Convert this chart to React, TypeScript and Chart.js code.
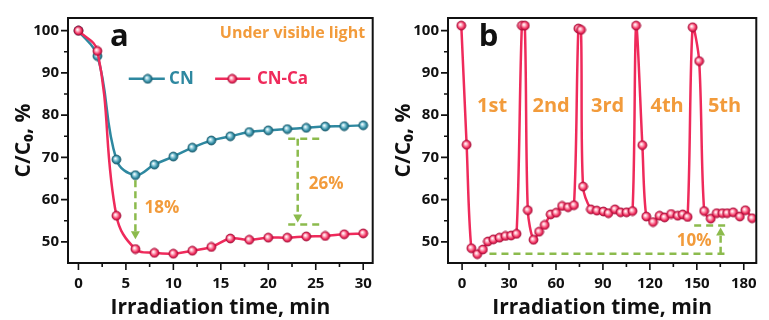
import React, { useEffect, useRef } from 'react';
import { Chart, registerables } from 'chart.js';
Chart.register(...registerables);

const FONT = "'Open Sans', 'DejaVu Sans', sans-serif";
const ORANGE = '#F29B3B';
const GREEN = '#8CBB4D';
const TEAL = '#2E88A0';
const RED = '#EF2A5B';
const INK = '#111111';

// Panel a data
const timeA = [0, 2, 4, 6, 8, 10, 12, 14, 16, 18, 20, 22, 24, 26, 28, 30];
const cnValues = [100, 94.0, 69.5, 65.8, 68.3, 70.2, 72.3, 74.0, 75.0, 76.0, 76.4, 76.7, 77.0, 77.3, 77.4, 77.6];
const cnCaValues = [100, 95.2, 56.2, 48.3, 47.4, 47.2, 47.9, 48.8, 50.8, 50.5, 51.0, 51.0, 51.3, 51.4, 51.8, 52.0];

// Panel b data (5 cycles)
const cycleTimes = [
  -0.5, 2.9, 5.9, 9.7, 13.3, 16.5, 20.0, 23.9, 27.7, 31.3, 34.8,
  38.2, 40.1, 42.0, 45.6, 49.2, 52.8, 56.6, 60.1, 63.9, 67.7, 71.5,
  74.3, 76.0, 77.3, 82.3, 86.1, 90.3, 93.5, 97.7, 101.3, 105.1, 108.9,
  111.2, 115.2, 117.7, 122.0, 126.2, 129.4, 133.6, 137.8, 141.0, 144.1,
  147.3, 151.5, 154.7, 158.9, 162.7, 166.3, 169.4, 173.2, 177.5, 181.0, 185.3,
];
const cycleValues = [
  101.2, 73.0, 48.5, 47.1, 48.2, 50.1, 50.6, 51.0, 51.4, 51.5, 51.9,
  101.2, 101.2, 57.5, 50.5, 52.4, 54.0, 56.5, 56.9, 58.5, 58.2, 58.7,
  100.5, 100.2, 63.1, 57.7, 57.4, 57.2, 56.8, 57.7, 57.0, 57.0, 57.3,
  101.2, 72.9, 56.0, 54.7, 56.2, 55.8, 56.6, 56.2, 56.5, 55.9,
  100.8, 92.8, 57.3, 55.5, 56.8, 56.8, 56.8, 57.0, 56.0, 57.5, 55.6,
];

const xTicksA = [0, 5, 10, 15, 20, 25, 30];
const xMinorA = [2.5, 7.5, 12.5, 17.5, 22.5, 27.5];
const xTicksB = [0, 30, 60, 90, 120, 150, 180];
const xMinorB = [15, 45, 75, 105, 135, 165];
const yTicks = [50, 60, 70, 80, 90, 100];
const yMinor = [55, 65, 75, 85, 95];
const cycleLabels = ['1st', '2nd', '3rd', '4th', '5th'];
const cycleLabelX = [19.2, 56.9, 93, 131, 167.7];
const seriesNames = ['CN', 'CN-Ca'];

type Fn = (v: number) => number;
type Extra = (ctx: CanvasRenderingContext2D, X: Fn, Y: Fn) => void;

function makeBall(base: string, light: string, dark: string, r = 4.5) {
  const size = Math.ceil(r * 2 + 2);
  const c = document.createElement('canvas');
  c.width = size;
  c.height = size;
  const ctx = c.getContext('2d')!;
  const cx = size / 2;
  const cy = size / 2;
  const g = ctx.createRadialGradient(cx - 1.2, cy - 1.2, 0.3, cx, cy, r);
  g.addColorStop(0, '#ffffff');
  g.addColorStop(0.3, light);
  g.addColorStop(0.75, base);
  g.addColorStop(1, dark);
  ctx.fillStyle = g;
  ctx.beginPath();
  ctx.arc(cx, cy, r, 0, Math.PI * 2);
  ctx.fill();
  ctx.strokeStyle = dark;
  ctx.lineWidth = 0.8;
  ctx.stroke();
  return c;
}

function text(ctx: CanvasRenderingContext2D, s: string, x: number, y: number, size: number, color: string, align: CanvasTextAlign = 'center') {
  ctx.font = `bold ${size}px ${FONT}`;
  ctx.fillStyle = color;
  ctx.textAlign = align;
  ctx.textBaseline = 'middle';
  ctx.fillText(s, x, y);
}

function dashedArrow(ctx: CanvasRenderingContext2D, x: number, y0: number, y1: number) {
  const dir = Math.sign(y1 - y0);
  const head = 8;
  ctx.strokeStyle = GREEN;
  ctx.lineWidth = 2.5;
  ctx.setLineDash([7, 4]);
  ctx.beginPath();
  ctx.moveTo(x, y0);
  ctx.lineTo(x, y1 - dir * head);
  ctx.stroke();
  ctx.setLineDash([]);
  ctx.fillStyle = GREEN;
  ctx.beginPath();
  ctx.moveTo(x, y1);
  ctx.lineTo(x - 4.5, y1 - dir * head);
  ctx.lineTo(x + 4.5, y1 - dir * head);
  ctx.closePath();
  ctx.fill();
}

function dashedH(ctx: CanvasRenderingContext2D, x0: number, x1: number, y: number) {
  ctx.strokeStyle = GREEN;
  ctx.lineWidth = 2.5;
  ctx.setLineDash([7, 5]);
  ctx.beginPath();
  ctx.moveTo(x0, y);
  ctx.lineTo(x1, y);
  ctx.stroke();
  ctx.setLineDash([]);
}

function framePlugin(xMajor: number[], xMinor: number[], extra: Extra) {
  return {
    id: 'frameAndNotes',
    afterDatasetsDraw(chart: any) {
      const { ctx, chartArea: a, scales } = chart;
      const X = (v: number) => scales.x.getPixelForValue(v);
      const Y = (v: number) => scales.y.getPixelForValue(v);
      ctx.save();
      extra(ctx, X, Y);
      ctx.setLineDash([]);
      ctx.strokeStyle = INK;
      ctx.lineWidth = 2;
      ctx.strokeRect(a.left, a.top, a.right - a.left, a.bottom - a.top);
      ctx.lineWidth = 1.6;
      ctx.beginPath();
      xMajor.forEach((v) => { const p = X(v); ctx.moveTo(p, a.bottom); ctx.lineTo(p, a.bottom + 7); });
      xMinor.forEach((v) => { const p = X(v); ctx.moveTo(p, a.bottom); ctx.lineTo(p, a.bottom + 4); });
      yTicks.forEach((v) => { const p = Y(v); ctx.moveTo(a.left, p); ctx.lineTo(a.left - 7, p); });
      yMinor.forEach((v) => { const p = Y(v); ctx.moveTo(a.left, p); ctx.lineTo(a.left - 4, p); });
      ctx.stroke();
      ctx.restore();
    },
  };
}

function scalesFor(xMin: number, xMax: number, xMajor: number[], yWidth: number, yTitlePad: number) {
  const tickFont = { family: FONT, size: 15, weight: 'bold' as const };
  const titleFont = { family: FONT, size: 21, weight: 'bold' as const, lineHeight: 1 };
  return {
    x: {
      type: 'linear' as const,
      min: xMin,
      max: xMax,
      grid: { display: false, drawTicks: false },
      border: { display: false },
      afterBuildTicks: (s: any) => { s.ticks = xMajor.map((v) => ({ value: v })); },
      afterFit: (s: any) => { s.height = 57; },
      ticks: { padding: 12, color: INK, font: tickFont, maxRotation: 0, autoSkip: false, callback: (v: any) => String(v) },
      title: { display: true, text: 'Irradiation time, min', color: INK, font: titleFont, padding: { top: 0, bottom: 1 } },
    },
    y: {
      type: 'linear' as const,
      min: 45,
      max: 103,
      grid: { display: false, drawTicks: false },
      border: { display: false },
      afterBuildTicks: (s: any) => { s.ticks = yTicks.map((v) => ({ value: v })); },
      afterFit: (s: any) => { s.width = yWidth; },
      ticks: { padding: 9, color: INK, font: tickFont, autoSkip: false, callback: (v: any) => String(v) },
      title: { display: true, text: 'C/C₀, %', color: INK, font: titleFont, padding: { top: yTitlePad, bottom: 0 } },
    },
  };
}

export default function App() {
  const refA = useRef<HTMLCanvasElement>(null);
  const refB = useRef<HTMLCanvasElement>(null);

  useEffect(() => {
    const ballCN = makeBall(TEAL, '#9FD6E3', '#1D5E70');
    const ballCa = makeBall(RED, '#FFB3C4', '#A80F3A');

    const extraA: Extra = (ctx, X, Y) => {
      text(ctx, 'a', X(4.3), Y(98.4), 31, INK);
      text(ctx, 'Under visible light', X(30.2), Y(99.3), 16, ORANGE, 'right');
      // legend
      const ly = Y(88.6);
      ctx.lineWidth = 2.5;
      ctx.strokeStyle = TEAL;
      ctx.beginPath(); ctx.moveTo(X(5.3), ly); ctx.lineTo(X(9.1), ly); ctx.stroke();
      ctx.drawImage(ballCN, X(7.3) - ballCN.width / 2, ly - ballCN.height / 2);
      text(ctx, seriesNames[0], X(9.55), ly, 17, TEAL, 'left');
      ctx.strokeStyle = RED;
      ctx.beginPath(); ctx.moveTo(X(14.4), ly); ctx.lineTo(X(18.1), ly); ctx.stroke();
      ctx.drawImage(ballCa, X(16.2) - ballCa.width / 2, ly - ballCa.height / 2);
      text(ctx, seriesNames[1], X(18.8), ly, 17, RED, 'left');
      // 18% arrow
      dashedArrow(ctx, X(6), Y(65.8) + 5, Y(50.6));
      text(ctx, '18%', X(8.8), Y(58), 17, ORANGE);
      // 26% bracket
      dashedH(ctx, X(22.1), X(25.6), Y(74.4));
      dashedH(ctx, X(22.1), X(25.6), Y(54.1));
      dashedArrow(ctx, X(23.1), Y(74.4), Y(54.6));
      text(ctx, '26%', X(26.1), Y(63.6), 17, ORANGE);
    };

    const extraB: Extra = (ctx, X, Y) => {
      text(ctx, 'b', X(16.9), Y(98.4), 31, INK);
      cycleLabels.forEach((s, i) => text(ctx, s, X(cycleLabelX[i]), Y(82), 20, ORANGE));
      dashedH(ctx, X(17.5), X(170.5), Y(47.2));
      dashedH(ctx, X(148.3), X(170.5), Y(53.9));
      dashedArrow(ctx, X(165.2), Y(47.2), Y(53.4));
      text(ctx, '10%', X(148.3), Y(50.2), 17, ORANGE);
    };

    const a = new Chart(refA.current!, {
      type: 'line',
      data: {
        datasets: [
          {
            label: seriesNames[0],
            data: timeA.map((t, i) => ({ x: t, y: cnValues[i] })),
            borderColor: TEAL,
            borderWidth: 2.5,
            pointStyle: ballCN as any,
            pointRadius: 4.5,
            tension: 0.4,
            order: 1,
          },
          {
            label: seriesNames[1],
            data: timeA.map((t, i) => ({ x: t, y: cnCaValues[i] })),
            borderColor: RED,
            borderWidth: 2.5,
            pointStyle: ballCa as any,
            pointRadius: 4.5,
            tension: 0.4,
            order: 0,
          },
        ],
      },
      options: {
        responsive: false,
        devicePixelRatio: 1,
        animation: false,
        layout: { padding: { top: 13, right: 6, left: 0, bottom: 0 } },
        plugins: { legend: { display: false }, tooltip: { enabled: false } },
        scales: scalesFor(-1.1, 31, xTicksA, 68, 13.5) as any,
      },
      plugins: [framePlugin(xTicksA, xMinorA, extraA)],
    });

    const b = new Chart(refB.current!, {
      type: 'line',
      data: {
        datasets: [
          {
            label: seriesNames[1],
            data: cycleTimes.map((t, i) => ({ x: t, y: cycleValues[i] })),
            borderColor: RED,
            borderWidth: 2.5,
            pointStyle: ballCa as any,
            pointRadius: 4.5,
            tension: 0.3,
          },
        ],
      },
      options: {
        responsive: false,
        devicePixelRatio: 1,
        animation: false,
        layout: { padding: { top: 13, right: 9, left: 0, bottom: 0 } },
        plugins: { legend: { display: false }, tooltip: { enabled: false } },
        scales: scalesFor(-9, 188, xTicksB, 64, 10) as any,
      },
      plugins: [framePlugin(xTicksB, xMinorB, extraB)],
    });

    return () => {
      a.destroy();
      b.destroy();
    };
  }, []);

  return (
    <div style={{ position: 'fixed', left: 0, top: 0, width: 769, height: 320, background: '#ffffff' }}>
      <canvas ref={refA} width={384} height={320} style={{ position: 'absolute', left: 0, top: 0 }} />
      <canvas ref={refB} width={385} height={320} style={{ position: 'absolute', left: 384, top: 0 }} />
    </div>
  );
}
